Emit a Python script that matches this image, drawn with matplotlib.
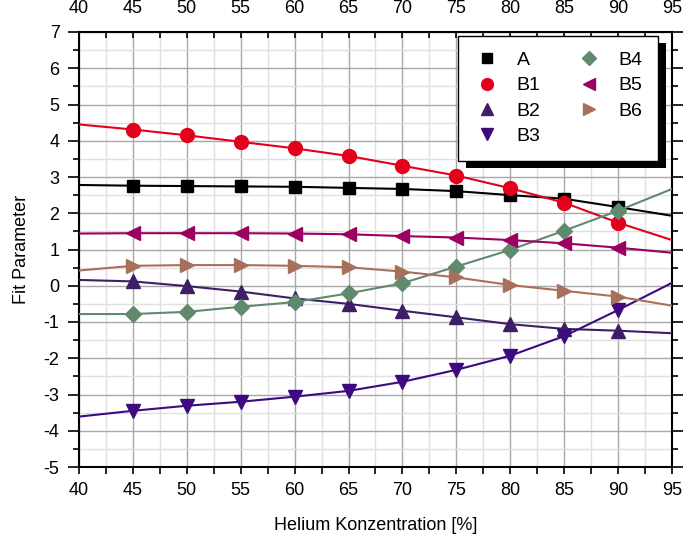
import numpy as np
import matplotlib
matplotlib.use("Agg")
import matplotlib.pyplot as plt
from matplotlib.lines import Line2D
from matplotlib.patches import Rectangle
from matplotlib.ticker import MultipleLocator

plt.rcParams.update({
    "font.family": ["Liberation Sans", "DejaVu Sans"],
    "font.size": 12,
    "axes.unicode_minus": False,
})

# Helium-Konzentration: Linien laufen von 40 bis 95, Marker nur bei 45..90
helium = [40, 45, 50, 55, 60, 65, 70, 75, 80, 85, 90, 95]

fit_A = [2.78, 2.76, 2.75, 2.74, 2.73, 2.70, 2.67, 2.61, 2.50, 2.40, 2.17, 1.93]
fit_B1 = [4.45, 4.31, 4.15, 3.97, 3.79, 3.58, 3.31, 3.04, 2.69, 2.29, 1.74, 1.26]
fit_B2 = [0.16, 0.12, -0.01, -0.16, -0.35, -0.50, -0.69, -0.87, -1.06, -1.19, -1.24, -1.31]
fit_B3 = [-3.61, -3.45, -3.31, -3.20, -3.06, -2.90, -2.65, -2.32, -1.93, -1.39, -0.67, 0.08]
fit_B4 = [-0.78, -0.78, -0.72, -0.58, -0.45, -0.21, 0.07, 0.53, 0.99, 1.52, 2.07, 2.67]
fit_B5 = [1.44, 1.45, 1.45, 1.45, 1.44, 1.42, 1.37, 1.33, 1.26, 1.17, 1.05, 0.91]
fit_B6 = [0.42, 0.55, 0.57, 0.57, 0.55, 0.51, 0.39, 0.23, 0.02, -0.14, -0.30, -0.55]

series = [
    ("A", fit_A, "#000000", "s", 9),
    ("B1", fit_B1, "#e2001a", "o", 10),
    ("B2", fit_B2, "#3e1f66", "^", 10.5),
    ("B3", fit_B3, "#3d0a80", "v", 10.5),
    ("B4", fit_B4, "#5f8a6e", "D", 8.5),
    ("B5", fit_B5, "#9c0060", "<", 10.5),
    ("B6", fit_B6, "#a8705a", ">", 10.5),
]

fig = plt.figure(figsize=(6.92, 5.39), dpi=100)
ax = fig.add_axes([79 / 692, 1 - 467 / 539, 593 / 692, 435 / 539])

for name, vals, col, mk, ms in series:
    ax.plot(helium, vals, color=col, linewidth=1.5, marker=mk, markersize=ms,
            markevery=slice(1, -1), zorder=3)

ax.set_xlim(40, 95)
ax.set_ylim(-5, 7)
ax.xaxis.set_major_locator(MultipleLocator(5))
ax.xaxis.set_minor_locator(MultipleLocator(2.5))
ax.yaxis.set_major_locator(MultipleLocator(1))
ax.yaxis.set_minor_locator(MultipleLocator(0.5))

ax.grid(which="major", color="#a8a8a8", linewidth=1.0, zorder=0)
ax.grid(which="minor", color="#e0e0e0", linewidth=1.0, zorder=0)
ax.set_axisbelow(True)

for sp in ax.spines.values():
    sp.set_linewidth(1.5)

ax.tick_params(axis="x", which="both", top=True, labeltop=True, labelsize=13)
ax.tick_params(axis="x", which="major", direction="out", length=5, width=1.2, pad=6)
ax.tick_params(axis="x", which="minor", direction="out", length=5, width=1.2)
ax.tick_params(axis="y", which="both", right=True, labelright=True, labelsize=13)
ax.tick_params(axis="y", which="major", direction="out", length=8, width=1.2, pad=6)
ax.tick_params(axis="y", which="minor", direction="out", length=4, width=1.2)
# obere Ticks nach innen
for t in ax.xaxis.get_major_ticks() + ax.xaxis.get_minor_ticks():
    t.tick2line.set_marker(3)
    t.tick2line.set_markersize(4)

ax.set_xlabel("Helium Konzentration [%]", fontsize=13, labelpad=13)
ax.set_ylabel("Fit Parameter", fontsize=13, labelpad=10)

handles = [Line2D([], [], linestyle="none", marker=mk, color=col, markersize=ms * 0.85)
           for name, vals, col, mk, ms in series]
labels = [s[0] for s in series]
leg = ax.legend(handles, labels, ncol=2, loc="upper right",
                bbox_to_anchor=(0.976, 0.991), borderaxespad=0,
                fancybox=False, framealpha=1, edgecolor="black",
                fontsize=14, handletextpad=0.8, columnspacing=1.8,
                labelspacing=0.4, borderpad=0.8, handlelength=1.4)
leg.get_frame().set_linewidth(1.0)
leg.set_zorder(6)

# schwarzer Schatten hinter der Legende
fig.canvas.draw()
bb = leg.get_window_extent()
inv = ax.transAxes.inverted()
(x0, y0) = inv.transform((bb.x0 + 8, bb.y0 - 7))
(x1, y1) = inv.transform((bb.x1 + 8, bb.y1 - 7))
ax.add_patch(Rectangle((x0, y0), x1 - x0, y1 - y0, transform=ax.transAxes,
                       facecolor="black", edgecolor="none", zorder=5.5, clip_on=False))

fig.savefig("out.png", dpi=100)
